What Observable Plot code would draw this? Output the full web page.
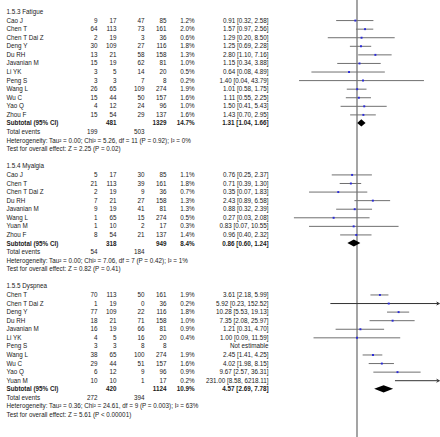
<!DOCTYPE html>
<html><head><meta charset="utf-8">
<script src="https://cdn.jsdelivr.net/npm/d3@7"></script>
<script src="https://cdn.jsdelivr.net/npm/@observablehq/plot@0.6"></script>
<style>body{margin:0;background:#fff} svg{display:block}</style>
</head><body><div id="chart"></div>
<script>
// ---- data: [study, events exp, total exp, events ctrl, total ctrl, weight %, OR, lower, upper]
const fatigueTitle = "1.5.3 Fatigue";
const fatigueStudies = [
  ["Cao J", 9, 17, 47, 85, 1.2, 0.91, 0.32, 2.58],
  ["Chen T", 64, 113, 73, 161, 2.0, 1.57, 0.97, 2.56],
  ["Chen T Dai Z", 2, 19, 3, 36, 0.6, 1.29, 0.20, 8.50],
  ["Deng Y", 30, 109, 27, 116, 1.8, 1.25, 0.69, 2.28],
  ["Du RH", 13, 21, 58, 158, 1.3, 2.80, 1.10, 7.16],
  ["Javanian M", 15, 19, 62, 81, 1.0, 1.15, 0.34, 3.88],
  ["Li YK", 3, 5, 14, 20, 0.5, 0.64, 0.08, 4.89],
  ["Peng S", 3, 3, 7, 8, 0.2, 1.40, 0.04, 43.79],
  ["Wang L", 26, 65, 109, 274, 1.9, 1.01, 0.58, 1.75],
  ["Wu C", 15, 44, 50, 157, 1.6, 1.11, 0.55, 2.25],
  ["Yao Q", 4, 12, 24, 96, 1.0, 1.50, 0.41, 5.43],
  ["Zhou F", 15, 54, 29, 137, 1.6, 1.43, 0.70, 2.95]
];
const fatigueSubtotal = [481, 1329, 14.7, 1.31, 1.04, 1.66];
const fatigueEvents = [199, 503];
const fatigueHet = "Heterogeneity: Tau² = 0.00; Chi² = 5.26, df = 11 (P = 0.92); I² = 0%";
const fatigueTest = "Test for overall effect: Z = 2.25 (P = 0.02)";

const myalgiaTitle = "1.5.4 Myalgia";
const myalgiaStudies = [
  ["Cao J", 5, 17, 30, 85, 1.1, 0.76, 0.25, 2.37],
  ["Chen T", 21, 113, 39, 161, 1.8, 0.71, 0.39, 1.30],
  ["Chen T Dai Z", 2, 19, 9, 36, 0.7, 0.35, 0.07, 1.83],
  ["Du RH", 7, 21, 27, 158, 1.3, 2.43, 0.89, 6.58],
  ["Javanian M", 9, 19, 41, 81, 1.3, 0.88, 0.32, 2.39],
  ["Wang L", 1, 65, 15, 274, 0.5, 0.27, 0.03, 2.08],
  ["Yuan M", 1, 10, 2, 17, 0.3, 0.83, 0.07, 10.55],
  ["Zhou F", 8, 54, 21, 137, 1.4, 0.96, 0.40, 2.32]
];
const myalgiaSubtotal = [318, 949, 8.4, 0.86, 0.60, 1.24];
const myalgiaEvents = [54, 184];
const myalgiaHet = "Heterogeneity: Tau² = 0.00; Chi² = 7.06, df = 7 (P = 0.42); I² = 1%";
const myalgiaTest = "Test for overall effect: Z = 0.82 (P = 0.41)";

const dyspneaTitle = "1.5.5 Dyspnea";
const dyspneaStudies = [
  ["Chen T", 70, 113, 50, 161, 1.9, 3.61, 2.18, 5.99],
  ["Chen T Dai Z", 1, 19, 0, 36, 0.2, 5.92, 0.23, 152.52],
  ["Deng Y", 77, 109, 22, 116, 1.8, 10.28, 5.53, 19.13],
  ["Du RH", 18, 21, 71, 158, 1.0, 7.35, 2.08, 25.97],
  ["Javanian M", 16, 19, 66, 81, 0.9, 1.21, 0.31, 4.70],
  ["Li YK", 4, 5, 16, 20, 0.4, 1.00, 0.09, 11.59],
  ["Peng S", 3, 3, 8, 8, null, null, null, null],
  ["Wang L", 38, 65, 100, 274, 1.9, 2.45, 1.41, 4.25],
  ["Wu C", 29, 44, 51, 157, 1.6, 4.02, 1.98, 8.15],
  ["Yao Q", 6, 12, 9, 96, 0.9, 9.67, 2.57, 36.31],
  ["Yuan M", 10, 10, 1, 17, 0.2, 231.00, 8.58, 6218.11]
];
const dyspneaSubtotal = [420, 1124, 10.9, 4.57, 2.69, 7.78];
const dyspneaEvents = [272, 394];
const dyspneaHet = "Heterogeneity: Tau² = 0.36; Chi² = 24.61, df = 9 (P = 0.003); I² = 63%";
const dyspneaTest = "Test for overall effect: Z = 5.61 (P < 0.00001)";

const xDomain = [0.01, 100];

// ---- build tables
const groups = [
  [fatigueTitle, fatigueStudies, fatigueSubtotal, fatigueEvents, fatigueHet, fatigueTest],
  [myalgiaTitle, myalgiaStudies, myalgiaSubtotal, myalgiaEvents, myalgiaHet, myalgiaTest],
  [dyspneaTitle, dyspneaStudies, dyspneaSubtotal, dyspneaEvents, dyspneaHet, dyspneaTest]
];
const fmtCI = (o, l, h) => `${o.toFixed(2)} [${l.toFixed(2)}, ${h.toFixed(2)}]`;
const texts = [];   // {row, col, text, bold}
const ci = [];      // {row, or, lo, hi}
const diamonds = []; // {g, x, y1, y2}
let row = 0;
groups.forEach(([title, studies, sub, ev, het, test], gi) => {
  texts.push({row, col: "name", text: title});
  row++;
  for (const [n, e1, t1, e2, t2, w, o, l, h] of studies) {
    texts.push({row, col: "name", text: n});
    texts.push({row, col: "e1", text: String(e1)});
    texts.push({row, col: "t1", text: String(t1)});
    texts.push({row, col: "e2", text: String(e2)});
    texts.push({row, col: "t2", text: String(t2)});
    if (w != null) texts.push({row, col: "w", text: w.toFixed(1) + "%"});
    texts.push({row, col: "eff", text: o == null ? "Not estimable" : fmtCI(o, l, h)});
    if (o != null) ci.push({row, or: o, lo: l, hi: h});
    row++;
  }
  const [st1, st2, sw, so, sl, sh] = sub;
  texts.push({row, col: "name", text: "Subtotal (95% CI)", bold: true});
  texts.push({row, col: "t1", text: String(st1), bold: true});
  texts.push({row, col: "t2", text: String(st2), bold: true});
  texts.push({row, col: "w", text: sw.toFixed(1) + "%", bold: true});
  texts.push({row, col: "eff", text: fmtCI(so, sl, sh), bold: true});
  const hh = 0.42;
  diamonds.push({g: gi, x: sl, y1: row, y2: row});
  diamonds.push({g: gi, x: so, y1: row - hh, y2: row + hh});
  diamonds.push({g: gi, x: sh, y1: row, y2: row});
  row++;
  texts.push({row, col: "name", text: "Total events"});
  texts.push({row, col: "e1", text: String(ev[0])});
  texts.push({row, col: "e2", text: String(ev[1])});
  row++;
  texts.push({row, col: "name", text: het}); row++;
  texts.push({row, col: "name", text: test}); row++;
  row++; // blank line between groups
});
const lastRow = row - 2;

const cols = {name: [6, "start"], e1: [97, "end"], t1: [116, "end"], e2: [144, "end"], t2: [166, "end"], w: [194, "end"], eff: [268, "end"]};
const colMarks = [];
for (const [c, [dx, anchor]] of Object.entries(cols)) {
  for (const bold of [false, true]) {
    const d = texts.filter(t => t.col === c && !!t.bold === bold);
    if (d.length) colMarks.push(Plot.text(d, {y: "row", text: "text", frameAnchor: "left", dx, textAnchor: anchor, fontWeight: bold ? "bold" : "normal", fill: "#1a1a1a"}));
  }
}

const inRange = ci.filter(d => d.hi <= xDomain[1]);
const clipped = ci.filter(d => d.hi > xDomain[1]);

const chart = Plot.plot({
  width: 440, height: 437,
  marginLeft: 0, marginRight: 0, marginTop: 0, marginBottom: 0,
  style: {fontFamily: "'Liberation Sans', Arial, sans-serif", fontSize: "6.3px", background: "#fff"},
  x: {type: "log", domain: xDomain, range: [274.3, 438.7], axis: null},
  y: {domain: [0, lastRow], range: [11.5, 414.5], axis: null},
  marks: [
    Plot.ruleX([1], {stroke: "#8e8e8e", strokeWidth: 1.6}),
    Plot.ruleY(inRange, {y: "row", x1: "lo", x2: "hi", stroke: "#707070", strokeWidth: 1}),
    Plot.arrow(clipped, {x1: "lo", x2: () => xDomain[1], y1: "row", y2: "row", stroke: "#333", strokeWidth: 1, headLength: 4, bend: 0}),
    Plot.dot(ci.filter(d => d.or <= xDomain[1]), {x: "or", y: "row", symbol: "square", r: 1.1, fill: "#2a2ad8"}),
    Plot.areaY(diamonds, {x: "x", y1: "y1", y2: "y2", z: "g", fill: "#000", curve: "linear"}),
    ...colMarks
  ]
});
document.getElementById("chart").append(chart);
</script>
</body></html>
